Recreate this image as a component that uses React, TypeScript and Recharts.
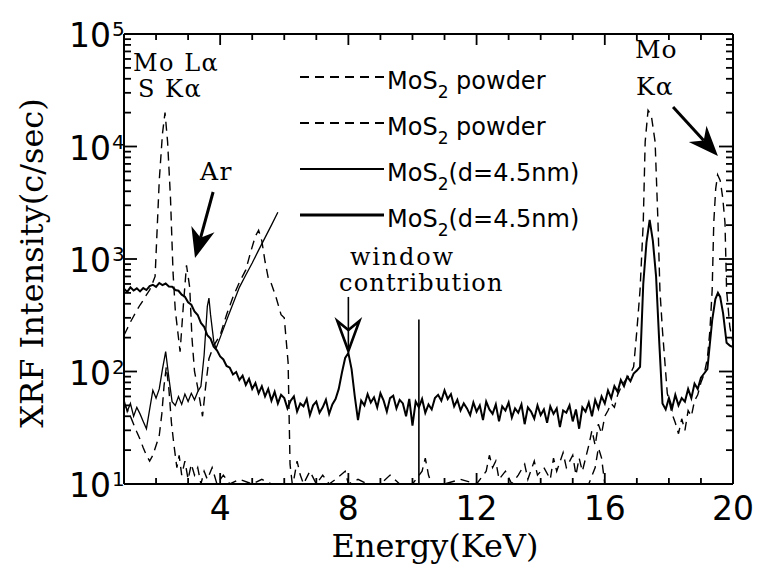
import React from 'react';
import { LineChart, Line, XAxis, YAxis, ReferenceLine, Legend } from 'recharts';

type Pt = [number, number];

// ---- spectra: [energy (keV), count rate (c/sec)] ----
const POWDER_A: Pt[] = [
  [1.0, 210], [1.1, 240], [1.2, 275], [1.3, 310], [1.4, 350], [1.5, 390], [1.6, 430], [1.7, 480],
  [1.8, 530], [1.9, 620], [1.97, 700], [2.1, 5000], [2.2, 13000], [2.28, 20000], [2.36, 11000],
  [2.45, 3500], [2.53, 760], [2.6, 350], [2.75, 150], [2.85, 380], [2.95, 880], [3.05, 560],
  [3.12, 200], [3.2, 100], [3.3, 72], [3.45, 40], [3.55, 75], [3.65, 130], [3.8, 170], [4.0, 210],
  [4.2, 320], [4.4, 460], [4.6, 620], [4.8, 800], [4.95, 1150], [5.1, 1600], [5.2, 1800],
  [5.3, 1450], [5.4, 950], [5.5, 680], [5.6, 600], [5.75, 450], [5.9, 320], [6.0, 300],
  [6.12, 120], [6.18, 15], [6.25, 10], [6.3, 11], [6.4, 16], [6.5, 12], [6.6, 10], [6.8, 13],
  [7.0, 10], [7.2, 12], [7.4, 10], [7.6, 11], [7.9, 13], [8.0, 10], [8.3, 11], [8.6, 10], [9.0, 10],
  [9.3, 12], [9.6, 10], [10.0, 10], [10.3, 13], [10.4, 17], [10.5, 12], [10.6, 10], [11.0, 10],
  [11.5, 11], [12.0, 10], [12.3, 13], [12.4, 18], [12.5, 14], [12.6, 16], [12.7, 11], [12.9, 13],
  [13.1, 10], [13.3, 12], [13.5, 15], [13.6, 11], [13.8, 16], [13.9, 12], [14.1, 14], [14.3, 11],
  [14.4, 17], [14.5, 13], [14.7, 19], [14.8, 14], [15.0, 18], [15.1, 12], [15.2, 17], [15.3, 13],
  [15.5, 22], [15.6, 30], [15.7, 22], [15.8, 34], [15.9, 28], [16.0, 40], [16.1, 45], [16.2, 52],
  [16.3, 48], [16.4, 62], [16.5, 72], [16.6, 80], [16.7, 88], [16.8, 96], [16.9, 110], [17.0, 230],
  [17.1, 530], [17.2, 2100], [17.26, 11000], [17.35, 21000], [17.45, 19000], [17.57, 11000],
  [17.66, 2100], [17.72, 530], [17.8, 230], [17.95, 64], [18.1, 42], [18.2, 35], [18.3, 28],
  [18.4, 38], [18.5, 30], [18.6, 45], [18.7, 40], [18.8, 55], [18.9, 62], [19.0, 80], [19.1, 95],
  [19.2, 130], [19.28, 233], [19.35, 530], [19.4, 2100], [19.46, 4200], [19.52, 5600], [19.6, 5000],
  [19.68, 3500], [19.75, 2100], [19.8, 530], [19.9, 250], [20.0, 180],
];

const POWDER_B: Pt[] = [
  [1.0, 52], [1.1, 46], [1.2, 40], [1.3, 34], [1.4, 29], [1.5, 25], [1.6, 21], [1.7, 18], [1.8, 16],
  [1.9, 18], [2.0, 22], [2.1, 27], [2.18, 42], [2.25, 75], [2.32, 110], [2.4, 70], [2.48, 35],
  [2.56, 22], [2.65, 14], [2.72, 18], [2.8, 12], [2.9, 16], [3.0, 11], [3.1, 15], [3.2, 12],
  [3.3, 14], [3.4, 10], [3.5, 13], [3.6, 11], [3.75, 14], [3.9, 10], [4.1, 12], [4.3, 10], [4.6, 11],
  [5.0, 10], [5.3, 11], [5.6, 10], [6.0, 10], [6.6, 10], [7.5, 10], [8.5, 10], [9.5, 10], [10.5, 10],
  [11.5, 10], [12.5, 10], [13.5, 10], [14.5, 10], [15.5, 10], [15.7, 14], [15.8, 21], [15.9, 17],
  [16.0, 10],
];

const FILM_B: Pt[] = [
  [1.0, 56], [1.1, 44], [1.2, 52], [1.3, 40], [1.4, 48], [1.5, 42], [1.6, 36], [1.7, 31], [1.8, 46],
  [1.9, 68], [2.0, 58], [2.1, 70], [2.2, 105], [2.3, 150], [2.4, 88], [2.5, 54], [2.6, 50], [2.7, 60],
  [2.8, 51], [2.9, 63], [3.0, 54], [3.1, 64], [3.2, 56], [3.3, 66], [3.4, 74], [3.5, 140], [3.6, 380],
  [3.65, 450], [3.7, 320], [3.8, 185], [3.87, 160], [4.0, 200], [4.2, 285], [4.4, 400], [4.6, 560],
  [4.8, 720], [5.0, 920], [5.2, 1200], [5.4, 1550], [5.6, 2000], [5.8, 2600],
];

const FILM_A: Pt[] = [
  [1.0, 545], [1.1, 510], [1.2, 560], [1.3, 525], [1.4, 548], [1.5, 515], [1.6, 552], [1.7, 530],
  [1.8, 575], [1.9, 590], [2.0, 565], [2.1, 612], [2.2, 585], [2.3, 605], [2.4, 570], [2.5, 568],
  [2.6, 530], [2.7, 522], [2.8, 482], [2.9, 462], [3.0, 412], [3.1, 392], [3.2, 342], [3.3, 318],
  [3.4, 270], [3.5, 250], [3.6, 210], [3.7, 196], [3.8, 166], [3.9, 154], [4.0, 136], [4.1, 128],
  [4.2, 112], [4.3, 108], [4.4, 94], [4.5, 99], [4.6, 84], [4.7, 92], [4.8, 76], [4.9, 86], [5.0, 70],
  [5.1, 79], [5.2, 64], [5.3, 74], [5.4, 60], [5.5, 70], [5.6, 55], [5.7, 66], [5.8, 52], [5.9, 62],
  [6.0, 58], [6.1, 47], [6.2, 55], [6.3, 60], [6.4, 44], [6.5, 52], [6.6, 49], [6.7, 57], [6.8, 41],
  [6.9, 50], [7.0, 54], [7.1, 43], [7.2, 48], [7.3, 56], [7.4, 42], [7.5, 51], [7.6, 57], [7.7, 70],
  [7.8, 98], [7.9, 132], [8.0, 146], [8.1, 105], [8.2, 60], [8.3, 37], [8.4, 55], [8.5, 50], [8.6, 63],
  [8.7, 53], [8.8, 59], [8.9, 48], [9.0, 64], [9.1, 55], [9.2, 44], [9.3, 58], [9.4, 61], [9.5, 47],
  [9.6, 56], [9.7, 52], [9.8, 40], [9.9, 57], [10.0, 33], [10.1, 54], [10.2, 48], [10.3, 57],
  [10.4, 43], [10.5, 51], [10.6, 46], [10.7, 58], [10.8, 62], [10.9, 55], [11.0, 68], [11.1, 57],
  [11.2, 63], [11.3, 49], [11.4, 56], [11.5, 45], [11.6, 52], [11.7, 47], [11.8, 41], [11.9, 53],
  [12.0, 44], [12.1, 50], [12.2, 37], [12.3, 54], [12.4, 46], [12.5, 42], [12.6, 51], [12.7, 36],
  [12.8, 49], [12.9, 45], [13.0, 53], [13.1, 39], [13.2, 47], [13.3, 43], [13.4, 51], [13.5, 34],
  [13.6, 48], [13.7, 44], [13.8, 38], [13.9, 50], [14.0, 41], [14.1, 46], [14.2, 35], [14.3, 49],
  [14.4, 42], [14.5, 47], [14.6, 32], [14.7, 45], [14.8, 43], [14.9, 50], [15.0, 36], [15.1, 46],
  [15.2, 31], [15.3, 48], [15.4, 44], [15.5, 53], [15.6, 40], [15.7, 56], [15.8, 47], [15.9, 60],
  [16.0, 52], [16.1, 68], [16.2, 58], [16.3, 74], [16.4, 66], [16.5, 84], [16.6, 74], [16.7, 90],
  [16.8, 82], [16.9, 96], [17.0, 102], [17.1, 110], [17.2, 600], [17.3, 1400], [17.4, 2230],
  [17.5, 1450], [17.6, 700], [17.7, 180], [17.8, 52], [17.9, 46], [18.0, 58], [18.1, 47], [18.2, 62],
  [18.3, 50], [18.4, 58], [18.5, 54], [18.6, 70], [18.7, 58], [18.8, 78], [18.9, 70], [19.0, 88],
  [19.1, 96], [19.2, 105], [19.35, 285], [19.45, 440], [19.53, 500], [19.6, 460], [19.69, 330],
  [19.8, 180], [19.9, 170], [20.0, 165],
];

// ---- axes ----
const ENERGY_DOMAIN: [number, number] = [1, 20];
const ENERGY_TICKS = [1, 2, 3, 4, 5, 6, 7, 8, 9, 10, 11, 12, 13, 14, 15, 16, 17, 18, 19, 20];
const ENERGY_LABELS = [4, 8, 12, 16, 20];
const INTENSITY_DOMAIN: [number, number] = [10, 100000];
const INTENSITY_TICKS = [
  10, 20, 30, 40, 50, 60, 70, 80, 90,
  100, 200, 300, 400, 500, 600, 700, 800, 900,
  1000, 2000, 3000, 4000, 5000, 6000, 7000, 8000, 9000,
  10000, 20000, 30000, 40000, 50000, 60000, 70000, 80000, 90000,
  100000,
];

// thin vertical line near 10.2 keV
const WINDOW_LINE = { energy: 10.2, low: 10, high: 290 };

// annotation arrows in data coordinates: [energy, intensity]
const ARROWS: { from: Pt; to: Pt; head: 'solid' | 'open' }[] = [
  { from: [3.78, 3940], to: [3.215, 1020], head: 'solid' },
  { from: [8.0, 460], to: [8.0, 152], head: 'open' },
  { from: [18.13, 22400], to: [19.53, 8240], head: 'solid' },
];

const SERIES = [
  { key: 'powderA', name: 'MoS2 powder', points: POWDER_A, dash: '9 6', width: 1.4, legendWidth: 2 },
  { key: 'powderB', name: 'MoS2 powder', points: POWDER_B, dash: '9 6', width: 1.4, legendWidth: 2 },
  { key: 'filmB', name: 'MoS2(d=4.5nm)', points: FILM_B, dash: undefined, width: 1.3, legendWidth: 2 },
  { key: 'filmA', name: 'MoS2(d=4.5nm)', points: FILM_A, dash: undefined, width: 2, legendWidth: 2.8 },
];

// ---- layout ----
const WIDTH = 761;
const HEIGHT = 572;
const PLOT = { left: 124, top: 34, right: 733, bottom: 484 };
const LEFT_AXIS_W = 116;
const RIGHT_AXIS_W = 10;
const TOP_AXIS_H = 10;
const BOTTOM_AXIS_H = 60;
const MARGIN = {
  top: PLOT.top - TOP_AXIS_H,
  right: WIDTH - PLOT.right - RIGHT_AXIS_W,
  bottom: HEIGHT - PLOT.bottom - BOTTOM_AXIS_H,
  left: PLOT.left - LEFT_AXIS_W,
};

// frame positions of axis ticks (linear energy axis, logarithmic intensity axis)
const energyPx = (e: number) =>
  PLOT.left + ((e - ENERGY_DOMAIN[0]) / (ENERGY_DOMAIN[1] - ENERGY_DOMAIN[0])) * (PLOT.right - PLOT.left);
const intensityPx = (v: number) => {
  const lo = Math.log10(INTENSITY_DOMAIN[0]);
  const hi = Math.log10(INTENSITY_DOMAIN[1]);
  return PLOT.bottom - ((Math.log10(v) - lo) / (hi - lo)) * (PLOT.bottom - PLOT.top);
};

const SANS = '"DejaVu Sans", sans-serif';
const SERIF = '"DejaVu Serif", serif';
const TICK_STROKE = 1.8;

const isDecade = (v: number) => Math.abs(Math.log10(v) - Math.round(Math.log10(v))) < 1e-9;

function LeftTick(props: any) {
  const { x, y, payload } = props;
  const v = payload.value;
  if (!isDecade(v)) return <g />;
  const exp = Math.round(Math.log10(v));
  return (
    <g>
      <text x={x - 13} y={y + 13} textAnchor="end" fontFamily={SANS} fontSize={33} fill="#000">
        10
      </text>
      <text x={x - 12} y={y + 2} fontFamily={SANS} fontSize={20} fill="#000">
        {exp}
      </text>
    </g>
  );
}

function BottomTick(props: any) {
  const { x, y, payload } = props;
  if (!ENERGY_LABELS.includes(payload.value)) return <g />;
  return (
    <text x={x} y={y + 36} textAnchor="middle" fontFamily={SANS} fontSize={33} fill="#000">
      {payload.value}
    </text>
  );
}

// inward tick marks on all four sides of the frame
function FrameTicks() {
  return (
    <g stroke="#000" strokeWidth={TICK_STROKE}>
      {INTENSITY_TICKS.map((v) => {
        const y = intensityPx(v);
        const major = isDecade(v);
        return (
          <g key={`i${v}`}>
            <line x1={PLOT.left} x2={PLOT.left + (major ? 13 : 7)} y1={y} y2={y} />
            <line x1={PLOT.right} x2={PLOT.right - (major ? 14 : 7)} y1={y} y2={y} />
          </g>
        );
      })}
      {ENERGY_TICKS.map((e) => {
        const x = energyPx(e);
        const major = ENERGY_LABELS.includes(e);
        return (
          <g key={`e${e}`}>
            <line x1={x} x2={x} y1={PLOT.top} y2={PLOT.top + (major ? 11 : 6)} />
            <line x1={x} x2={x} y1={PLOT.bottom} y2={PLOT.bottom - (major ? 11 : 6)} />
          </g>
        );
      })}
    </g>
  );
}

function arrowShape(head: 'solid' | 'open') {
  return (props: any) => {
    const { x1, y1, x2, y2 } = props;
    const dx = x2 - x1;
    const dy = y2 - y1;
    const len = Math.hypot(dx, dy) || 1;
    const ux = dx / len;
    const uy = dy / len;
    const px = -uy;
    const py = ux;
    const L = 30;
    const W = head === 'solid' ? 12 : 11;
    const bx = x2 - ux * L;
    const by = y2 - uy * L;
    const nx = bx + ux * 9;
    const ny = by + uy * 9;
    const pts = `${x2},${y2} ${bx + px * W},${by + py * W} ${nx},${ny} ${bx - px * W},${by - py * W}`;
    return (
      <g>
        <line
          x1={x1}
          y1={y1}
          x2={head === 'solid' ? nx : x2}
          y2={head === 'solid' ? ny : y2}
          stroke="#000"
          strokeWidth={head === 'solid' ? 3 : 1.6}
        />
        {head === 'solid' ? (
          <polygon points={pts} fill="#000" />
        ) : (
          <polygon points={pts} fill="none" stroke="#000" strokeWidth={2.6} strokeLinejoin="miter" />
        )}
      </g>
    );
  };
}

function SeriesName({ name }: { name: string }) {
  const rest = name.slice(4);
  return (
    <>
      <tspan>MoS</tspan>
      <tspan dy={9} fontSize={17}>2</tspan>
      <tspan dy={-9}>{rest}</tspan>
    </>
  );
}

function LegendBox(props: any) {
  const payload: any[] = props.payload || [];
  return (
    <svg width={340} height={190} style={{ overflow: 'visible', display: 'block' }}>
      {payload.map((entry, i) => {
        const s = SERIES.find((d) => d.key === entry.dataKey) || SERIES[i];
        const cy = 17 + i * 46;
        return (
          <g key={i}>
            <line
              x1={0}
              x2={84}
              y1={cy}
              y2={cy}
              stroke="#000"
              strokeWidth={s.legendWidth}
              strokeDasharray={s.dash}
            />
            <text x={87} y={cy + 12} fontFamily={SANS} fontSize={24} fill="#000">
              <SeriesName name={s.name} />
            </text>
          </g>
        );
      })}
    </svg>
  );
}

export default function App() {
  return (
    <div style={{ position: 'absolute', left: 0, top: 0, width: WIDTH, height: HEIGHT, background: '#fff' }}>
      <LineChart width={WIDTH} height={HEIGHT} margin={MARGIN}>
        <XAxis
          xAxisId="b"
          type="number"
          dataKey="e"
          domain={ENERGY_DOMAIN}
          ticks={ENERGY_TICKS}
          interval={0}
          allowDataOverflow
          height={BOTTOM_AXIS_H}
          tickSize={0}
          tickMargin={0}
          tickLine={false}
          axisLine={{ stroke: '#000', strokeWidth: 2 }}
          tick={<BottomTick />}
        />
        <XAxis
          xAxisId="t"
          orientation="top"
          type="number"
          dataKey="e"
          domain={ENERGY_DOMAIN}
          ticks={ENERGY_TICKS}
          interval={0}
          allowDataOverflow
          height={TOP_AXIS_H}
          tickSize={0}
          tickMargin={0}
          tickLine={false}
          axisLine={{ stroke: '#000', strokeWidth: 2 }}
          tick={false}
        />
        <YAxis
          yAxisId="l"
          scale="log"
          domain={INTENSITY_DOMAIN}
          ticks={INTENSITY_TICKS}
          interval={0}
          allowDataOverflow
          width={LEFT_AXIS_W}
          tickSize={0}
          tickMargin={0}
          tickLine={false}
          axisLine={{ stroke: '#000', strokeWidth: 2 }}
          tick={<LeftTick />}
        />
        <YAxis
          yAxisId="r"
          orientation="right"
          scale="log"
          domain={INTENSITY_DOMAIN}
          ticks={INTENSITY_TICKS}
          interval={0}
          allowDataOverflow
          width={RIGHT_AXIS_W}
          tickSize={0}
          tickMargin={0}
          tickLine={false}
          axisLine={{ stroke: '#000', strokeWidth: 2 }}
          tick={false}
        />
        {SERIES.map((s) => (
          <Line
            key={s.key}
            xAxisId="b"
            yAxisId="l"
            name={s.name}
            data={s.points.map(([e, v]) => ({ e, [s.key]: v }))}
            dataKey={s.key}
            type="linear"
            stroke="#000"
            strokeWidth={s.width}
            strokeDasharray={s.dash}
            dot={false}
            activeDot={false}
            isAnimationActive={false}
          />
        ))}
        <ReferenceLine
          xAxisId="b"
          yAxisId="l"
          segment={[
            { x: WINDOW_LINE.energy, y: WINDOW_LINE.low },
            { x: WINDOW_LINE.energy, y: WINDOW_LINE.high },
          ]}
          stroke="#000"
          strokeWidth={1.6}
        />
        {ARROWS.map((a, i) => (
          <ReferenceLine
            key={i}
            xAxisId="b"
            yAxisId="l"
            segment={[
              { x: a.from[0], y: a.from[1] },
              { x: a.to[0], y: a.to[1] },
            ]}
            shape={arrowShape(a.head)}
          />
        ))}
        <Legend
          layout="vertical"
          verticalAlign="middle"
          align="center"
          content={<LegendBox />}
          wrapperStyle={{ position: 'absolute', left: 300, top: 60, width: 340, height: 190 }}
        />
      </LineChart>
      <svg
        width={WIDTH}
        height={HEIGHT}
        style={{ position: 'absolute', left: 0, top: 0, pointerEvents: 'none' }}
      >
        <FrameTicks />
        <g fontFamily={SERIF} fill="#000">
          <text x={133} y={71} fontSize={24} letterSpacing={1.5}>Mo Lα</text>
          <text x={138} y={97} fontSize={24} letterSpacing={1.5}>S Kα</text>
          <text x={200} y={180} fontSize={25} letterSpacing={1.5}>Ar</text>
          <text x={350} y={265} fontSize={24} letterSpacing={1.8}>window</text>
          <text x={339} y={291} fontSize={24} letterSpacing={1.2}>contribution</text>
          <text x={635} y={58} fontSize={25} letterSpacing={1}>Mo</text>
          <text x={636} y={95} fontSize={25} letterSpacing={1}>Kα</text>
          <text x={435} y={557} fontSize={32} textAnchor="middle">Energy(KeV)</text>
          <text x={43} y={263} fontSize={32} textAnchor="middle" transform="rotate(-90 43 263)">
            XRF Intensity(c/sec)
          </text>
        </g>
      </svg>
    </div>
  );
}
